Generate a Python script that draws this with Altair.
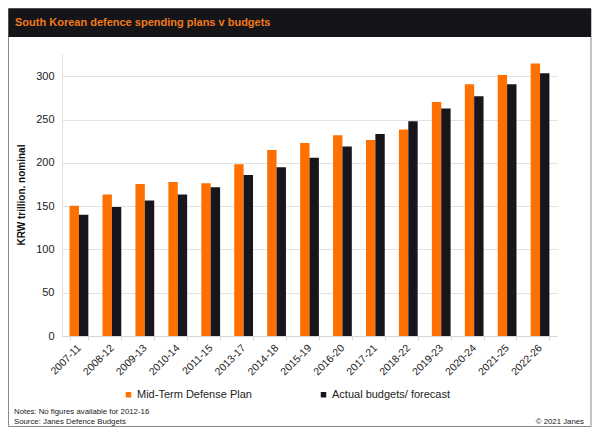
import altair as alt
import pandas as pd

periods = ["2007-11", "2008-12", "2009-13", "2010-14", "2011-15", "2013-17", "2014-18",
           "2015-19", "2016-20", "2017-21", "2018-22", "2019-23", "2020-24", "2021-25", "2022-26"]
plan = [150.5, 163.5, 175.5, 178, 176.5, 198.5, 215, 223, 232, 226.5, 238.5, 270.5, 291, 301.5, 315]
actual = [140, 149, 156.5, 163.5, 172, 186, 195, 206, 219, 233.5, 248, 263, 277, 291, 303.5]
series_names = ["Mid-Term Defense Plan", "Actual budgets/ forecast"]
y_ticks = [0, 50, 100, 150, 200, 250, 300]

title_text = "South Korean defence spending plans v budgets"
y_title = "KRW trillion. nominal"
note_text = "Notes: No figures available for 2012-16"
source_text = "Source: Janes Defence Budgets"
copyright_text = "\u00a9 2021 Janes"

ORANGE = "#FF7000"
BLACK = "#18161c"
FONT = "Liberation Sans"

rows = []
for p, a, b in zip(periods, plan, actual):
    rows.append({"period": p, "series": series_names[0], "value": a})
    rows.append({"period": p, "series": series_names[1], "value": b})
df = pd.DataFrame(rows)

W, H = 495, 283
one = alt.Data(values=[{}])

frame = alt.Chart(one).mark_rect(fill="transparent", stroke="#8a8a8a", strokeWidth=1).encode(
    x=alt.value(-53.5), x2=alt.value(529), y=alt.value(-44.5), y2=alt.value(373.5)
)
title_bar = alt.Chart(one).mark_rect(fill="#151419").encode(
    x=alt.value(-53.5), x2=alt.value(529), y=alt.value(-44.5), y2=alt.value(-16)
)
title = alt.Chart(one).mark_text(
    align="left", baseline="middle", font=FONT, fontSize=11, fontWeight="bold", color="#F07A1C"
).encode(x=alt.value(-47), y=alt.value(-30.5), text=alt.value(title_text))

bars = alt.Chart(df).mark_bar().encode(
    x=alt.X("period:N", sort=periods,
            scale=alt.Scale(paddingInner=0.43, paddingOuter=0.23),
            axis=alt.Axis(title=None, labelAngle=-45, labelAlign="right", labelBaseline="middle",
                          labelFontSize=10.5, labelColor="#222", labelPadding=6,
                          domainColor="#d6d6d6", tickColor="#d6d6d6", tickSize=4,
                          tickBand="extent", grid=False)),
    xOffset=alt.XOffset("series:N", sort=series_names,
                        scale=alt.Scale(paddingInner=0, paddingOuter=0)),
    y=alt.Y("value:Q", scale=alt.Scale(domain=[0, 327], nice=False),
            axis=alt.Axis(values=y_ticks, title=y_title, titleFontSize=10, titleFontWeight="bold",
                          titleColor="#111", titlePadding=9, labelFontSize=11, labelColor="#222",
                          labelPadding=8, ticks=False, tickSize=0, domainColor="#e2e2e2",
                          gridColor="#e2e2e2", grid=True)),
    color=alt.Color("series:N", sort=series_names,
                    scale=alt.Scale(domain=series_names, range=[ORANGE, BLACK]),
                    legend=alt.Legend(title=None, orient="none", legendX=61, legendY=336,
                                      direction="horizontal", columns=2, columnPadding=66,
                                      symbolType="square", symbolSize=30, symbolStrokeWidth=0,
                                      labelFontSize=11, labelColor="#222", labelOffset=3)),
)

notes = alt.Chart(one).mark_text(
    align="left", baseline="middle", font=FONT, fontSize=7.8, color="#222"
).encode(x=alt.value(-48), y=alt.value(359), text=alt.value(note_text))
source = alt.Chart(one).mark_text(
    align="left", baseline="middle", font=FONT, fontSize=7.8, color="#222"
).encode(x=alt.value(-48), y=alt.value(368.5), text=alt.value(source_text))
copyright_ = alt.Chart(one).mark_text(
    align="right", baseline="middle", font=FONT, fontSize=7.8, color="#222"
).encode(x=alt.value(522), y=alt.value(368.5), text=alt.value(copyright_text))

chart = alt.layer(frame, title_bar, title, bars, notes, source, copyright_).properties(
    width=W, height=H,
    autosize=alt.AutoSizeParams(type="none"),
    padding={"left": 54, "top": 45, "right": 35, "bottom": 91},
    background="white",
).configure(font=FONT).configure_view(stroke=None)

chart.save("out.html", embed_options={"renderer": "svg", "actions": False})
